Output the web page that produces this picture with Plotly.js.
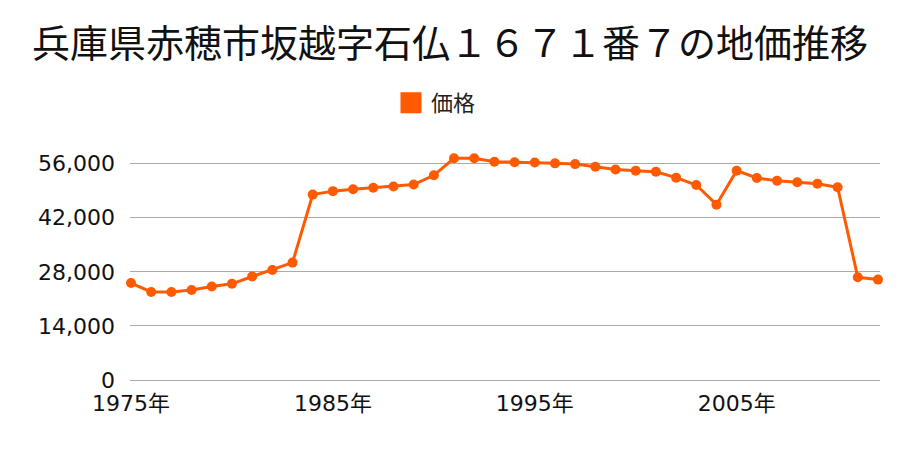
<!DOCTYPE html>
<html><head><meta charset="utf-8">
<script src="https://cdn.plot.ly/plotly-3.0.1.min.js"></script>
<style>html,body{margin:0;padding:0;background:#fff}</style>
</head><body><div id="chart" style="width:900px;height:450px"></div>
<script>
const years = [1975,1976,1977,1978,1979,1980,1981,1982,1983,1984,1985,1986,1987,1988,1989,1990,1991,1992,1993,1994,1995,1996,1997,1998,1999,2000,2001,2002,2003,2004,2005,2006,2007,2008,2009,2010,2011,2012];
const prices = [25100,22800,22800,23300,24200,24900,26800,28500,30400,48000,48900,49400,49800,50100,50600,53000,57400,57400,56500,56400,56300,56100,55900,55200,54500,54200,53900,52400,50500,45400,54200,52300,51600,51200,50800,49900,26600,26000];
const seriesName = '価格';
const titleText = '兵庫県赤穂市坂越字石仏１６７１番７の地価推移';
const yTicks = [0,14000,28000,42000,56000];
const xTicks = [1975,1985,1995,2005];
const xTickLabels = ['1975年','1985年','1995年','2005年'];
const color = '#ff5a00';
const cjk = '"Noto Sans CJK JP", "Noto Sans", sans-serif';
const tickFont = '"DejaVu Sans", "Noto Sans CJK JP", sans-serif';

Plotly.newPlot('chart', [
  {x: years, y: prices, type: 'scatter', mode: 'lines+markers', name: seriesName, showlegend: false,
   line: {color: color, width: 3}, marker: {color: color, size: 10}, cliponaxis: false},
  {x: [null], y: [null], type: 'scatter', mode: 'markers', name: seriesName, showlegend: true,
   marker: {color: color, size: 16, symbol: 'square', line: {color: color, width: 5}}}
], {
  width: 900, height: 450,
  margin: {l: 130, r: 20, t: 156, b: 70},
  paper_bgcolor: '#fff', plot_bgcolor: '#fff',
  title: {text: titleText, x: 0.5, xanchor: 'center', y: 0.904, yanchor: 'middle', yref: 'container',
          font: {family: cjk, size: 38, color: '#111'}},
  showlegend: true,
  legend: {orientation: 'h', x: 0.348, xanchor: 'left', y: 1.237, yanchor: 'middle', yref: 'paper',
           font: {family: cjk, size: 22, color: '#222'}, itemsizing: 'trace'},
  xaxis: {range: [1974.95, 2012.1], tickvals: xTicks, ticktext: xTickLabels, showgrid: false,
          zeroline: false, showline: true, linecolor: '#aaa', linewidth: 1, ticks: '', ticklabelstandoff: 4,
          tickfont: {family: tickFont, size: 22, color: '#111'}},
  yaxis: {range: [0, 58000], tickvals: yTicks, tickformat: ',d', showgrid: true, gridcolor: '#aaa', gridwidth: 1,
          zeroline: false, showline: false, ticks: '', ticklabelstandoff: 14,
          tickfont: {family: tickFont, size: 22, color: '#111'}}
}, {displayModeBar: false});
</script></body></html>
